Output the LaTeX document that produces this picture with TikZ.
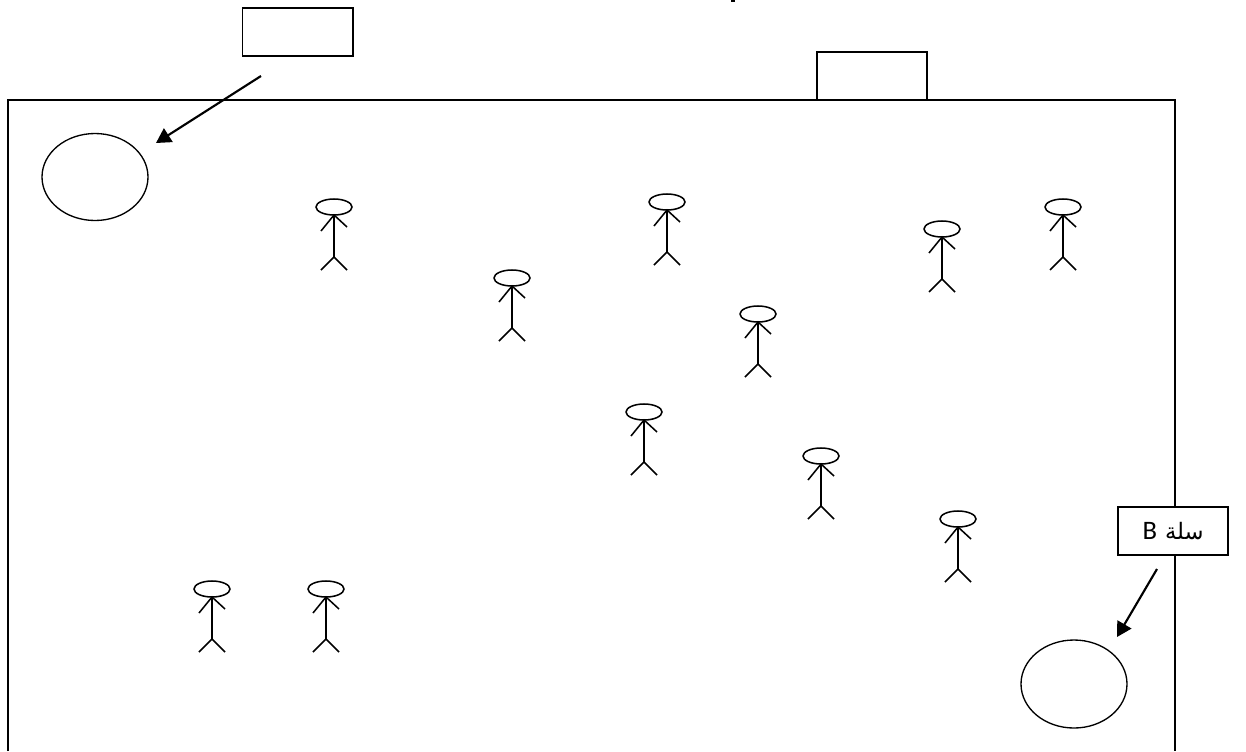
\documentclass[tikz,border=0pt]{standalone}
\usepackage{fontspec}
\usetikzlibrary{arrows.meta}
\setmainfont{Carlito}
\newfontfamily\arabicfont[Script=Arabic]{DejaVu Sans}
\TeXXeTstate=1
\tikzset{
  x=0.75pt,y=-0.75pt,
  line/.style={draw=black,line width=1.15pt},
  boxnode/.style={draw=black,line width=1.3pt,fill=white,inner sep=0pt,minimum width=82.8pt,minimum height=36pt,anchor=north west},
  pointer/.style={draw=black,line width=1.6pt,-{Triangle[length=11pt,width=12pt]}},
}
\newcommand{\person}[3]{%
  \draw[line] (#2,#3) ellipse [x radius=18,y radius=8];
  \coordinate (#1n) at (#2,#3+8);
  \coordinate (#1h) at (#2,#3+50);
  \draw[line] (#1n) -- (#1h);
  \draw[line] (#2-13,#3+24) -- (#1n) -- (#2+13,#3+20);
  \draw[line] (#2-13,#3+63) -- (#1h) -- (#2+13,#3+63);
}
\begin{document}
\begin{tikzpicture}
\path[use as bounding box] (0,0) rectangle (1246,751);
\fill[white] (0,0) rectangle (1246,751);
\draw[line] (8,751) -- (8,100) -- (1175,100) -- (1175,751);
\node[boxnode] (a) at (241.5,7) {};
\node[boxnode] (b) at (816,51) {};
\node[boxnode] (c) at (1117,506) {\fontsize{20pt}{20pt}\selectfont B\hspace{6pt}\fontsize{17pt}{17pt}\arabicfont\beginR سلة\endR\hspace{7pt}};
\coordinate (af) at (261,76);
\coordinate (at) at (156,143);
\coordinate (cf) at (1157,569);
\coordinate (ct) at (1117,637);
\draw[pointer] (af) -- (at);
\draw[pointer] (cf) -- (ct);
\draw[line width=1pt] (95,177) ellipse [x radius=53,y radius=43.5];
\draw[line width=1pt] (1074,684) ellipse [x radius=53,y radius=44];
\person{p1}{334}{207}
\person{p2}{667}{202}
\person{p3}{512}{278}
\person{p4}{942}{229}
\person{p5}{1063}{207}
\person{p6}{758}{314}
\person{p7}{644}{412}
\person{p8}{821}{456}
\person{p9}{958}{519}
\person{p10}{212}{589}
\person{p11}{326}{589}
\fill (731,0) rectangle (735,2);
\end{tikzpicture}
\end{document}
